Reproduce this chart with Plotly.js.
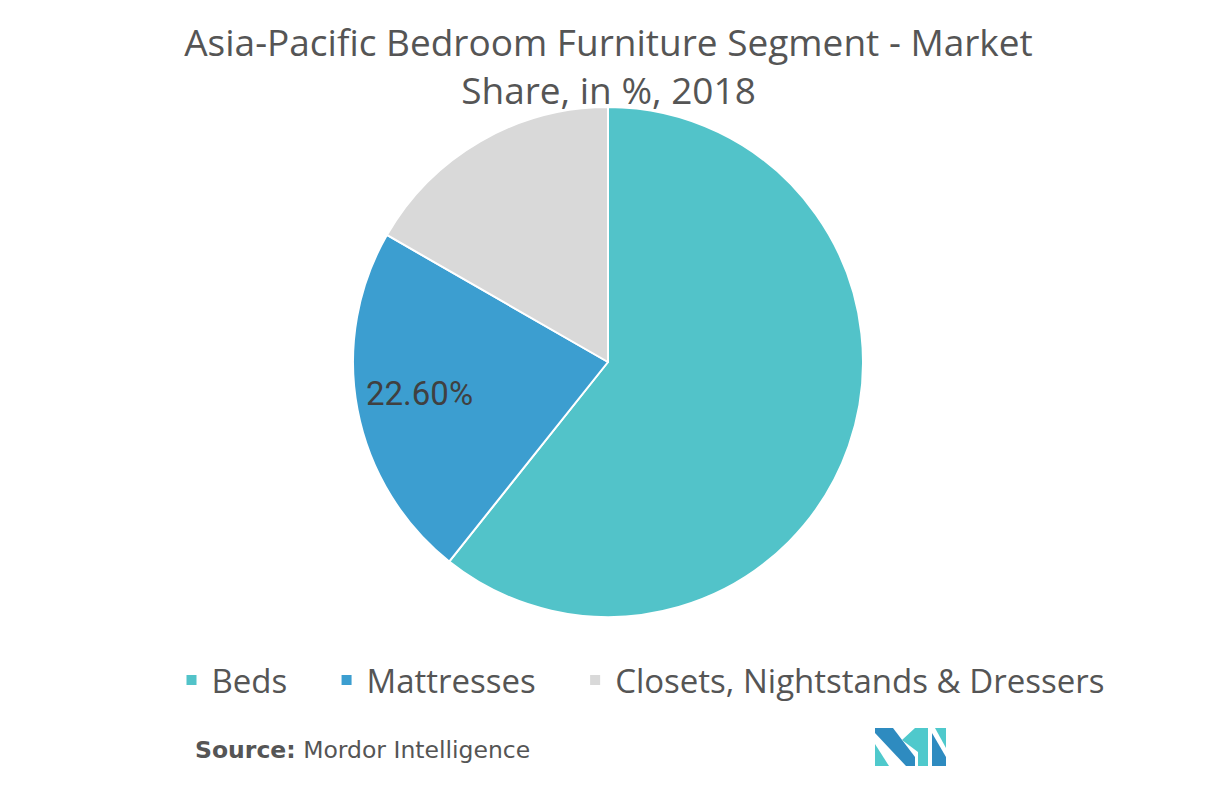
<!DOCTYPE html>
<html><head><meta charset="utf-8">
<script src="https://cdn.plot.ly/plotly-3.0.1.min.js"></script>
<style>html,body{margin:0;padding:0;background:#fff}#chart{width:1217px;height:786px}</style>
</head><body><div id="chart"></div>
<script>
const categories = ["Beds", "Mattresses", "Closets, Nightstands & Dressers"];
const shares = [60.7, 22.6, 16.7];
const colors = ["#52c3c9", "#3c9ed0", "#d9d9d9"];
const labelledIndex = 1;

const narrow = "'Open Sans', sans-serif";
const pad = "\u00a0\u00a0\u00a0\u00a0";

const trace = {
  type: "pie",
  labels: categories.map((c, i) => i < categories.length - 1 ? c + pad : c),
  values: shares,
  sort: false,
  direction: "clockwise",
  rotation: 0,
  marker: {colors: colors, line: {color: "#ffffff", width: 2}},
  textinfo: "none",
  hoverinfo: "none",
  domain: {x: [(608-255)/1217, (608+255)/1217], y: [1-617/786, 1-107/786]}
};

const logoDark = "#2e8bc0", logoTeal = "#4fc9cc";
function px(x){return x/1217;} function py(y){return 1-y/786;}
function poly(pts, color){
  return {type:"path", xref:"paper", yref:"paper", fillcolor:color, line:{width:0},
    path: "M" + pts.map(p => px(p[0]).toFixed(5)+","+py(p[1]).toFixed(5)).join(" L") + " Z"};
}
const shapes = [
  poly([[875,728],[893,728],[915,757],[915,766],[906,766],[875,733]], logoDark),
  poly([[875,744],[875,766],[889,766]], logoTeal),
  poly([[915,728],[928,728],[928,766],[918,766],[918,752],[902,740]], logoTeal),
  poly([[932,733],[946,757],[946,766],[932,766]], logoDark),
  poly([[935,728],[946,728],[946,748]], logoTeal)
];

const layout = {
  width: 1217, height: 786,
  margin: {l:0, r:0, t:0, b:0},
  paper_bgcolor: "#ffffff",
  title: {text: "Asia-Pacific Bedroom Furniture Segment - Market<br>Share, in %, 2018",
    x: 0.5, xanchor: "center", y: 1-56/786, yanchor: "top",
    font: {family: narrow, size: 37, color: "#555555", stretch: "condensed"}},
  showlegend: true,
  legend: {orientation: "h", x: 0.5 + 32/1217, xanchor: "center", y: 1-680/786, yanchor: "middle",
    font: {family: narrow, size: 33, color: "#555555", stretch: "condensed"}, itemwidth: 30, traceorder: "normal"},
  shapes: shapes,
  annotations: [{
    text: "<b>Source:</b> Mordor Intelligence", showarrow: false,
    xref: "paper", yref: "paper", x: 193/1217, xanchor: "left", y: 1-750/786, yanchor: "middle",
    font: {family: "'DejaVu Sans', sans-serif", size: 23.5, color: "#555555"}
  }, {
    text: shares[labelledIndex].toFixed(2) + "%", showarrow: false,
    xref: "paper", yref: "paper", x: 419/1217, xanchor: "center", y: 1-393/786, yanchor: "middle",
    font: {family: "Roboto, sans-serif", size: 33, color: "#404040"}
  }]
};

Plotly.newPlot("chart", [trace], layout, {displayModeBar: false, staticPlot: true});
</script></body></html>
